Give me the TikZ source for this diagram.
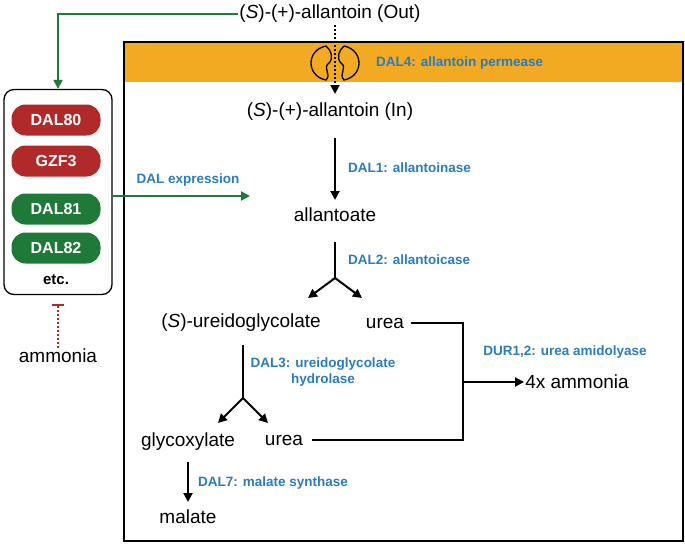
\documentclass[tikz,border=0pt]{standalone}
\usepackage{fontspec}
\setmainfont{Liberation Sans}
\usetikzlibrary{arrows.meta}
\definecolor{bandorange}{HTML}{F2AA22}
\definecolor{enzblue}{HTML}{2A7BBF}
\definecolor{repred}{HTML}{B02A2A}
\definecolor{actgreen}{HTML}{1F7A3A}
\begin{document}
\begin{tikzpicture}[x=1pt,y=-1pt,>={Triangle[length=9pt,width=9pt]}]
    \tikzstyle{metab}=[inner sep=1pt, font=\fontsize{19}{22}\selectfont]
    \tikzstyle{enzyme}=[font=\fontsize{13.5}{16}\selectfont\bfseries, text=enzblue, inner sep=1pt]
    \tikzstyle{regulator}=[rounded corners=14pt, minimum width=89pt, minimum height=31pt,
        text=white, font=\fontsize{16}{18}\selectfont\bfseries]
    \tikzstyle{reaction}=[->, line width=2pt]
    \tikzstyle{signal}=[->, actgreen, line width=2pt]
    \useasboundingbox (0,0) rectangle (685,544);

    % Cell and membrane
    \fill[bandorange] (124,42) rectangle (683,82);
    \draw[line width=2pt] (124,541) rectangle (683,42);

    % Permease
    \draw[line width=1.3pt] (326,46) .. controls (306,50) and (306,76) .. (326,80)
        .. controls (332,74) and (322,68) .. (329,63) .. controls (334,58) and (331,50) .. (326,46);
    \draw[line width=1.3pt] (344,46) .. controls (364,50) and (364,76) .. (344,80)
        .. controls (338,74) and (348,68) .. (341,63) .. controls (336,58) and (339,50) .. (344,46);

    % Metabolites
    \node[metab] (out) at (330,14) {(\textit{S})-(+)-allantoin (Out)};
    \node[metab] (in) at (330,112) {(\textit{S})-(+)-allantoin (In)};
    \node[metab] (allantoate) at (335,215) {allantoate};
    \node[metab] (ureido) at (241,323) {(\textit{S})-ureidoglycolate};
    \node[metab] (urea1) at (385,323) {urea};
    \node[metab] (ammonia4) at (577,382) {4x ammonia};
    \node[metab] (glyox) at (188,442) {glycoxylate};
    \node[metab] (urea2) at (284,440) {urea};
    \node[metab] (malate) at (188,517) {malate};
    \node[metab] (ammonia) at (58,356) {ammonia};

    % Enzymes
    \node[enzyme, anchor=west] (dal4) at (375,63) {DAL4: allantoin permease};
    \node[enzyme, anchor=west] (dal1) at (347,168) {DAL1: allantoinase};
    \node[enzyme, anchor=west] (dal2) at (347,260) {DAL2: allantoicase};
    \node[enzyme, align=center] (dal3) at (323,372) {DAL3: ureidoglycolate\\hydrolase};
    \node[enzyme] (dur) at (565,352) {DUR1,2: urea amidolyase};
    \node[enzyme, anchor=west] (dal7) at (197,483) {DAL7: malate synthase};
    \node[enzyme] (expr) at (188,180) {DAL expression};

    % Regulators
    \node[draw, line width=1.3pt, rounded corners=10pt, minimum width=108pt, minimum height=205pt] (reg) at (58,192) {};
    \node[regulator, fill=repred] (dal80) at (56,120) {DAL80};
    \node[regulator, fill=repred] (gzf3) at (56,161) {GZF3};
    \node[regulator, fill=actgreen] (dal81) at (56,209) {DAL81};
    \node[regulator, fill=actgreen] (dal82) at (56,248) {DAL82};
    \node[font=\fontsize{15}{18}\selectfont\bfseries] (etc) at (56,280) {etc.};

    % Coordinates for branches
    \coordinate (b2) at (335,278);
    \coordinate (b3) at (243,398);
    \coordinate (j) at (463,382);

    % Reactions
    \draw[->, line width=2pt, dotted] (335,25) -- (335,94);
    \draw[reaction] (335,138) -- (335,200);
    \draw[line width=2pt] (335,242) -- (b2);
    \draw[reaction] (b2) -- (308,298);
    \draw[reaction] (b2) -- (362,298);
    \draw[line width=2pt] (243,345) -- (b3);
    \draw[reaction] (b3) -- (218,423);
    \draw[reaction] (b3) -- (268,423);
    \draw[reaction] (188,462) -- (188,502);
    \draw[line width=2pt] ([xshift=6pt]urea1.east) -| (j) |- ([xshift=8pt]urea2.east);
    \draw[reaction] (j) -- (ammonia4.west);

    % Regulation
    \draw[signal] (out.west) -| (reg.north);
    \draw[signal] (reg.east |- 0,196) -- (250,196);
    \draw[repred, line width=2pt, dotted] (ammonia.north) -- (58,305);
    \draw[repred, line width=2pt] (52,305) -- (64,305);
\end{tikzpicture}
\end{document}
